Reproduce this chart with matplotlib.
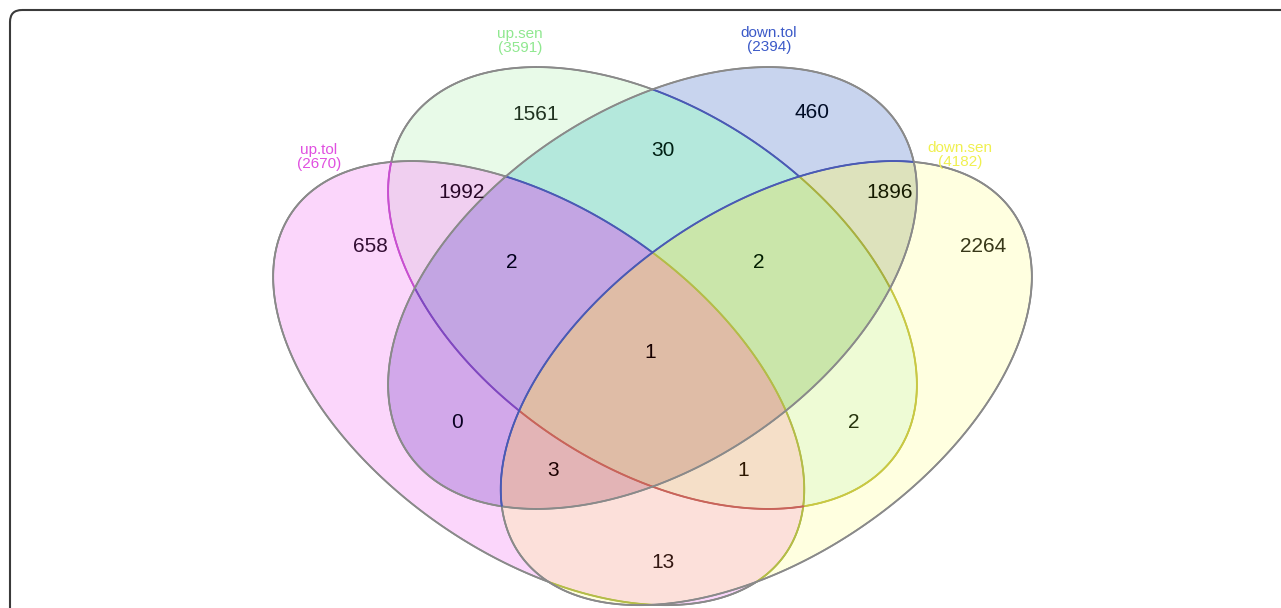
import numpy as np
import matplotlib
matplotlib.use("Agg")
import matplotlib.pyplot as plt
from matplotlib.patches import FancyBboxPatch
from matplotlib.collections import LineCollection

# ---------------- data ----------------
set_names = ["up.tol", "up.sen", "down.tol", "down.sen"]
set_totals = [2670, 3591, 2394, 4182]
region_keys = ["A", "B", "C", "D", "AB", "BC", "CD", "AC", "BD", "AD",
               "ABC", "BCD", "ABD", "ACD", "ABCD"]
region_counts = [658, 1561, 460, 2264, 1992, 30, 1896, 0, 2, 13,
                 2, 2, 1, 3, 1]

# ---------------- layout (pixel coords, y down) ----------------
W, H = 1281, 608
# ellipses: (cx, cy, semi-major, semi-minor, angle in degrees)
eA = (538.7, 383.1, 300.1, 172.5, 34.7)
eB = (652.5, 288.0, 295.0, 178.0, 33.8)
eC = (652.5, 288.0, 295.0, 178.0, -33.8)
eD = (766.3, 383.1, 300.1, 172.5, -34.7)
ellipses = [eA, eB, eC, eD]

region_colors = {
    (1, 0, 0, 0): (251, 214, 251), (0, 1, 0, 0): (232, 250, 232),
    (0, 0, 1, 0): (200, 212, 238), (0, 0, 0, 1): (255, 255, 224),
    (1, 1, 0, 0): (240, 207, 240), (0, 1, 1, 0): (180, 232, 220),
    (0, 0, 1, 1): (221, 226, 188), (1, 0, 1, 0): (210, 168, 234),
    (0, 1, 0, 1): (238, 251, 213), (1, 0, 0, 1): (252, 224, 218),
    (1, 1, 1, 0): (195, 165, 227), (0, 1, 1, 1): (202, 230, 170),
    (1, 1, 0, 1): (245, 223, 200), (1, 0, 1, 1): (227, 180, 182),
    (1, 1, 1, 1): (223, 188, 166), (0, 0, 0, 0): (255, 255, 255),
}
label_pos = {"A": (370, 247), "B": (536, 114), "C": (812, 112), "D": (983, 246),
             "AB": (462, 193), "BC": (663, 150), "CD": (890, 192), "AC": (457, 423),
             "BD": (854, 423), "AD": (663, 563), "ABC": (512, 263), "BCD": (759, 263),
             "ABD": (743, 471), "ACD": (553, 471), "ABCD": (650, 353)}
cat_pos = [(319, 157), (520, 41), (769, 40), (960, 155)]
cat_colors = ["#E050E0", "#90E890", "#3C5AC8", "#F0F050"]


def inside(e, X, Y):
    cx, cy, a, b, ang = e
    t = np.radians(ang)
    dx, dy = X - cx, Y - cy
    u = dx*np.cos(t) + dy*np.sin(t)
    v = -dx*np.sin(t) + dy*np.cos(t)
    return (u/a)**2 + (v/b)**2 <= 1.0


fig = plt.figure(figsize=(W/100, H/100), dpi=100)
ax = fig.add_axes([0, 0, 1, 1])
ax.axis("off")

# region fill raster (2x supersampled)
ss = 2
xs = (np.arange(W*ss) + 0.5) / ss
ys = (np.arange(H*ss) + 0.5) / ss
X, Y = np.meshgrid(xs, ys)
code = np.zeros(X.shape, dtype=np.int8)
for k, e in enumerate(ellipses):
    code += (inside(e, X, Y).astype(np.int8) << k)
table = np.zeros((16, 3))
for key, col in region_colors.items():
    table[key[0] + 2*key[1] + 4*key[2] + 8*key[3]] = col
img = table[code].reshape(H, ss, W, ss, 3).mean(axis=(1, 3)) / 255.0
ax.imshow(img, extent=(0, W, H, 0), interpolation="nearest", aspect="auto", zorder=1)
ax.set_xlim(0, W)
ax.set_ylim(H, 0)

# outlines with tints
GRAY, BLUE = "#8a8a8a", "#4a5ab4"


def seg_color(k, ins):
    a_, b_, c_, d_ = ins
    if k == 2:
        return GRAY
    if k == 3:
        return BLUE if c_ else GRAY
    if k == 0:
        if d_:
            return "#b4bc48"
        if c_:
            return BLUE
        return GRAY
    if a_ and d_:
        return "#c8645a"
    if a_ and c_:
        return "#8048c0"
    if a_:
        return "#c850d0"
    if c_ and d_:
        return "#a8b040"
    if c_:
        return BLUE
    if d_:
        return "#c8c844"
    return GRAY


for k, e in enumerate(ellipses):
    cx, cy, a, b, ang = e
    t = np.radians(ang)
    s = np.linspace(0, 2*np.pi, 1500)
    px = cx + a*np.cos(s)*np.cos(t) - b*np.sin(s)*np.sin(t)
    py = cy + a*np.cos(s)*np.sin(t) + b*np.sin(s)*np.cos(t)
    segs = np.stack([np.column_stack([px[:-1], py[:-1]]),
                     np.column_stack([px[1:], py[1:]])], axis=1)
    mx, my = (px[:-1] + px[1:]) / 2, (py[:-1] + py[1:]) / 2
    ins = [inside(ellipses[j], mx, my) if j != k else np.zeros_like(mx, bool)
           for j in range(4)]
    cols = [seg_color(k, (ins[0][i], ins[1][i], ins[2][i], ins[3][i]))
            for i in range(len(mx))]
    ax.add_collection(LineCollection(segs, colors=cols, linewidths=1.3, zorder=2,
                                     capstyle="round"))

# counts
for key, n in zip(region_keys, region_counts):
    x, y = label_pos[key]
    memb = tuple(int(ch in key) for ch in "ABCD")
    rc = np.array(region_colors[memb])
    tc = np.clip(rc - 200, 0, 255) / 255.0
    ax.text(x, y, str(n), ha="center", va="center", fontsize=15,
            family="Liberation Sans", color=tc, zorder=3)

for (x, y), name, tot, col in zip(cat_pos, set_names, set_totals, cat_colors):
    ax.text(x, y, f"{name}\n({tot})", ha="center", va="center", fontsize=11,
            family="Liberation Sans", color=col, linespacing=0.95, zorder=3)

frame = FancyBboxPatch((10, 10), 1300, 640, boxstyle="round,pad=0,rounding_size=12",
                       fill=False, edgecolor="#3a3a3a", linewidth=1.5, zorder=4,
                       clip_on=False)
ax.add_patch(frame)

fig.savefig("out.png", dpi=100)
